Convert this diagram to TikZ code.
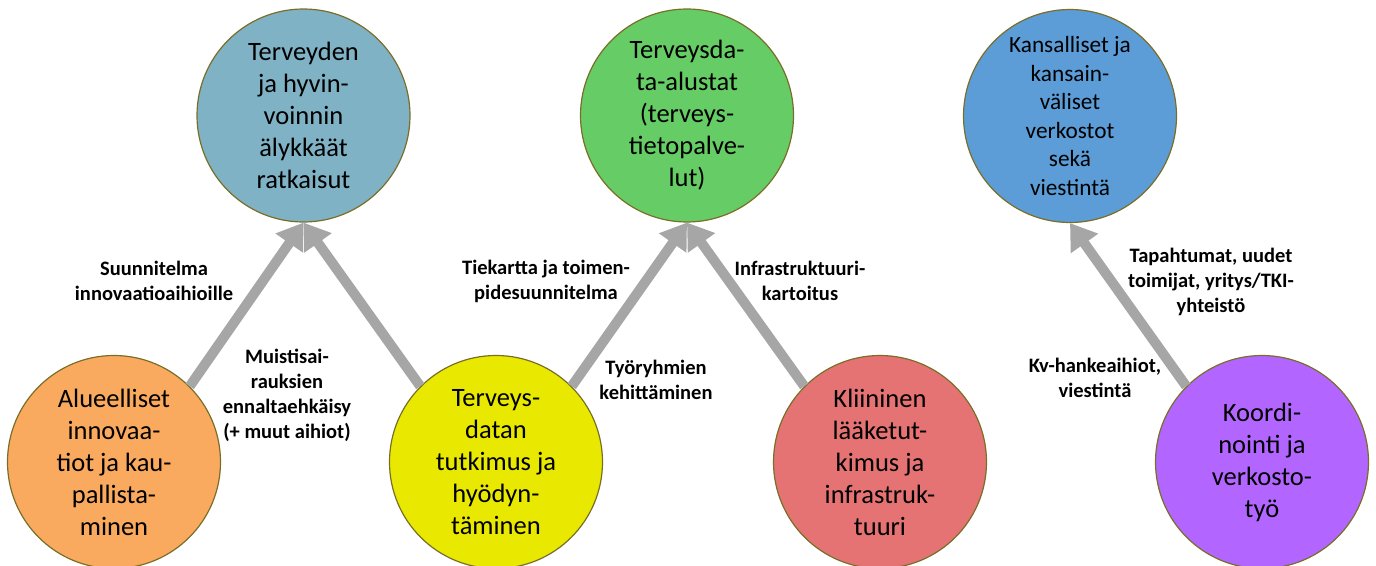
\documentclass[tikz,border=0pt]{standalone}
\usepackage{fontspec}
\setmainfont{Carlito}
\usetikzlibrary{arrows.meta}
\definecolor{cteal}{RGB}{127,178,196}
\definecolor{cgreen}{RGB}{102,204,102}
\definecolor{cblue}{RGB}{92,157,216}
\definecolor{corange}{RGB}{250,170,95}
\definecolor{cyellow}{RGB}{232,232,0}
\definecolor{cred}{RGB}{229,115,115}
\definecolor{cpurple}{RGB}{178,102,255}
\definecolor{cborder}{RGB}{120,110,40}
\definecolor{carrow}{RGB}{166,166,166}
\begin{document}
\begin{tikzpicture}[x=1pt,y=-1pt,
  circ/.style={circle, draw=cborder, line width=1.2pt, minimum size=213pt, inner sep=0pt,
    align=center, font=\fontsize{26.5}{32}\selectfont},
  circsmall/.style={circ, font=\fontsize{23.3}{28.6}\selectfont},
  lbl/.style={align=center, inner sep=0pt, font=\bfseries\fontsize{20.5}{25}\selectfont},
  arr/.style={draw=carrow, line width=10pt, -{Triangle[width=32pt,length=25pt]}}]
\useasboundingbox (0,0) rectangle (1376,565);
% top circles
\node[circ, fill=cteal] (teal) at (303.5,115.5) {Terveyden\\ja hyvin-\\voinnin\\älykkäät\\ratkaisut};
\node[circ, fill=cgreen] (green) at (687,115.5) {Terveysda-\\ta-alustat\\(terveys-\\tietopalve-\\lut)};
\node[circsmall, fill=cblue] (blue) at (1070,116) {Kansalliset ja\\kansain-\\väliset\\verkostot\\sekä\\viestintä};
% bottom circles
\node[circ, fill=corange] (orange) at (114,462) {Alueelliset\\innovaa-\\tiot ja kau-\\pallista-\\minen};
\node[circ, fill=cyellow] (yellow) at (496,462) {Terveys-\\datan\\tutkimus ja\\hyödyn-\\täminen};
\node[circ, fill=cred] (red) at (880,462) {Kliininen\\lääketut-\\kimus ja\\infrastruk-\\tuuri};
\node[circ, fill=cpurple] (purple) at (1262,462) {Koordi-\\nointi ja\\verkosto-\\työ};
% arrows
\draw[arr] (orange.45) -- (teal.south);
\draw[arr] (yellow.135) -- (teal.south);
\draw[arr] (yellow.45) -- (green.south);
\draw[arr] (red.135) -- (green.south);
\draw[arr] (purple.135) -- (blue.south);
% labels
\node[lbl] (l1) at (154,281) {Suunnitelma\\innovaatioaihioille};
\node[lbl] (l2) at (287,395) {Muistisai-\\rauksien\\ennaltaehkäisy\\(+ muut aihiot)};
\node[lbl] (l3) at (546,281) {Tiekartta ja toimen-\\pidesuunnitelma};
\node[lbl] (l4) at (656,380) {Työryhmien\\kehittäminen};
\node[lbl] (l5) at (800,281) {Infrastruktuuri-\\kartoitus};
\node[lbl] (l6) at (1211,282) {Tapahtumat, uudet\\toimijat, yritys/TKI-\\yhteistö};
\node[lbl] (l7) at (1095,378) {Kv-hankeaihiot,\\viestintä};
\end{tikzpicture}
\end{document}
